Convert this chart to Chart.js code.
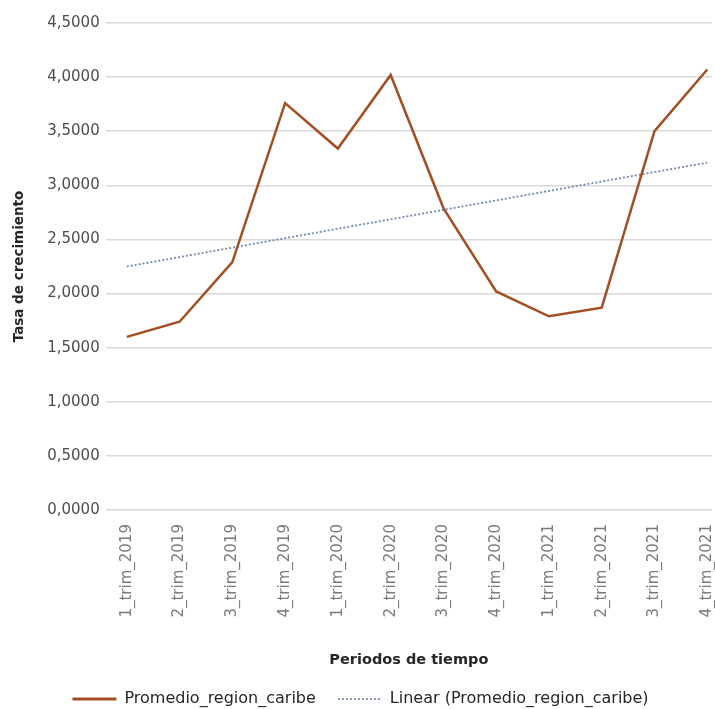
<!DOCTYPE html>
<html>
<head>
<meta charset="utf-8">
<script src="https://cdn.jsdelivr.net/npm/chart.js@4.4.1/dist/chart.umd.min.js"></script>
<style>
  html, body { margin: 0; padding: 0; background: #fff; }
  .chart-container { width: 715px; height: 709px; }
</style>
</head>
<body>
<div class="chart-container"><canvas id="myChart"></canvas></div>
<script>
// datos
const periodos = [
  "1_trim_2019", "2_trim_2019", "3_trim_2019", "4_trim_2019",
  "1_trim_2020", "2_trim_2020", "3_trim_2020", "4_trim_2020",
  "1_trim_2021", "2_trim_2021", "3_trim_2021", "4_trim_2021"
];
const promedioCaribe = [1.60, 1.74, 2.29, 3.76, 3.34, 4.02, 2.79, 2.02, 1.79, 1.87, 3.50, 4.07];
// extremos de la linea de tendencia (lineal)
const tendenciaX = [0, 11];
const tendenciaY = [2.25, 3.21];
const yTicks = [0, 0.5, 1, 1.5, 2, 2.5, 3, 3.5, 4, 4.5];

const grisY = "#4d4d4d";
const grisX = "#7a7a7a";
const oscuro = "#262626";

var ctx = document.getElementById("myChart").getContext("2d");
var myChart = new Chart(ctx, {
  type: "line",
  data: {
    datasets: [
      {
        label: "Promedio_region_caribe",
        data: promedioCaribe.map((v, i) => ({ x: i, y: v })),
        borderColor: "#a24f26",
        backgroundColor: "#a24f26",
        borderWidth: 2.5,
        pointRadius: 0,
        tension: 0,
      },
      {
        label: "Linear (Promedio_region_caribe)",
        data: tendenciaX.map((x, k) => ({ x: x, y: tendenciaY[k] })),
        borderColor: "#7489ab",
        backgroundColor: "#7489ab",
        borderWidth: 1.8,
        borderDash: [2, 2],
        pointRadius: 0,
      },
    ],
  },
  options: {
    responsive: true,
    maintainAspectRatio: false,
    animation: false,
    layout: { padding: { top: 23, right: 3, left: 9, bottom: -8 } },
    plugins: {
      tooltip: { enabled: false },
      legend: {
        position: "bottom",
        labels: {
          usePointStyle: true,
          pointStyle: "line",
          pointStyleWidth: 44,
          color: oscuro,
          font: { family: "DejaVu Sans", size: 16 },
          padding: 22,
          generateLabels: (chart) =>
            chart.data.datasets.map((ds, i) => ({
              text: ds.label,
              strokeStyle: ds.borderColor,
              fillStyle: ds.borderColor,
              lineWidth: i === 0 ? 3 : 1.8,
              lineDash: ds.borderDash || [],
              pointStyle: "line",
              fontColor: oscuro,
              hidden: false,
              datasetIndex: i,
            })),
        },
      },
    },
    scales: {
      x: {
        type: "linear",
        min: -0.4,
        max: 11.09,
        afterBuildTicks: (axis) => {
          axis.ticks = periodos.map((p, i) => ({ value: i }));
        },
        afterFit: (axis) => {
          axis.paddingRight = 0;
          axis.paddingLeft = 0;
        },
        grid: { display: false },
        border: { display: false },
        ticks: {
          minRotation: 90,
          maxRotation: 90,
          autoSkip: false,
          padding: 6,
          color: grisX,
          font: { family: "DejaVu Sans", size: 15 },
          callback: (v) => periodos[v],
        },
        title: {
          display: true,
          text: "Periodos de tiempo",
          color: oscuro,
          font: { family: "DejaVu Sans", size: 14.5, weight: "bold" },
          padding: { top: 28, bottom: 0 },
        },
      },
      y: {
        min: 0,
        max: 4.5,
        afterBuildTicks: (axis) => {
          axis.ticks = yTicks.map((v) => ({ value: v }));
        },
        grid: { color: "#d9d9d9", lineWidth: 1.5, drawTicks: false },
        border: { display: false },
        ticks: {
          padding: 6,
          color: grisY,
          font: { family: "DejaVu Sans", size: 15 },
          callback: (v) => v.toFixed(4).replace(".", ","),
        },
        title: {
          display: true,
          text: "Tasa de crecimiento",
          color: oscuro,
          font: { family: "DejaVu Sans", size: 13.5, weight: "bold" },
          padding: { top: 2, bottom: 14 },
        },
      },
    },
  },
});
</script>
</body>
</html>
